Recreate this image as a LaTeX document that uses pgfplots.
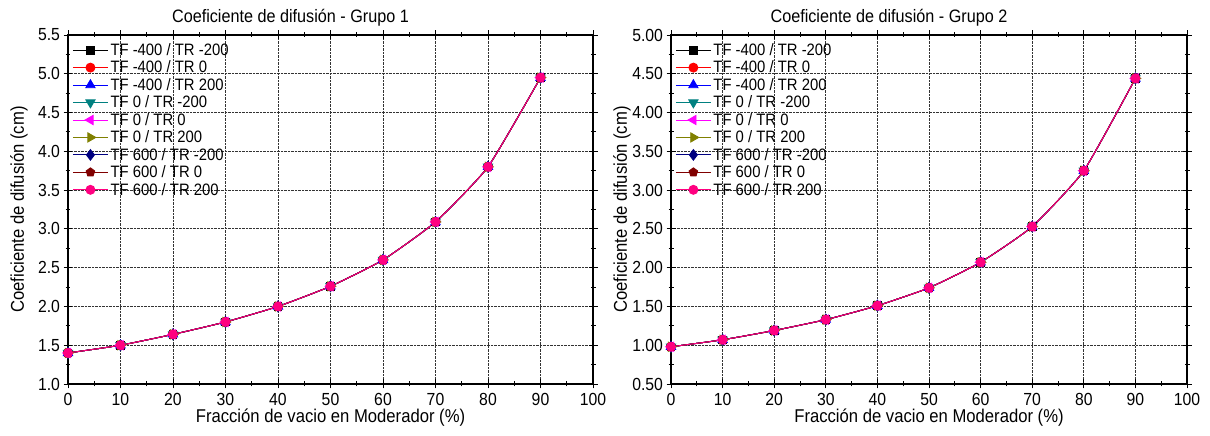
\documentclass[border=0pt]{standalone}
\usepackage{fontspec}
\setmainfont{Liberation Sans}[FakeStretch=0.9]
\usepackage{pgfplots}
\pgfplotsset{compat=1.18}
\usepackage{pgfplotstable}

\pgfplotstableread{
x y
0 1.40
10 1.50
20 1.64
30 1.80
40 2.00
50 2.26
60 2.60
70 3.09
80 3.80
90 4.95
}\grupoA

\pgfplotstableread{
x y
0 0.98
10 1.07
20 1.19
30 1.33
40 1.51
50 1.74
60 2.07
70 2.53
80 3.25
90 4.44
}\grupoB

\definecolor{cteal}{RGB}{0,128,128}
\definecolor{colive}{RGB}{128,128,0}
\definecolor{cnavy}{RGB}{0,0,128}
\definecolor{cmaroon}{RGB}{128,0,0}
\definecolor{cpink}{RGB}{255,0,128}
\definecolor{cmag}{RGB}{255,0,255}

\pgfplotsset{
  base/.style={
    scale only axis,
    height=349pt,
    xmin=0, xmax=100,
    xtick distance=10,
    minor x tick num=1,
    minor y tick num=1,
    grid=major,
    major grid style={densely dotted, black!80, line width=0.8pt},
    tick align=center,
    major tick length=9pt,
    minor tick length=5pt,
    tick style={black, line width=0.9pt},
    axis line style={line width=1.1pt},
    /pgf/number format/assume math mode=true,
    tick label style={font=\fontsize{17.5}{20}\selectfont},
    xticklabel style={yshift=-1pt},
    every axis x label/.style={at={(rel axis cs:0.5,0)}, yshift=-34pt, anchor=center},
    every axis y label/.style={at={(rel axis cs:0,0.5)}, xshift=-49pt, rotate=90, anchor=center},
    every axis title/.style={at={(rel axis cs:0.5,1)}, yshift=17pt, xshift=-40pt, anchor=center},
    label style={font=\fontsize{18.5}{20}\selectfont},
    title style={font=\fontsize{18}{20}\selectfont},
    xlabel={Fracción de vacio en Moderador (\%)},
    ylabel={Coeficiente de difusión (cm)},
    legend style={at={(0.006,0.985)}, anchor=north west, draw=none, fill=none,
      font=\fontsize{16.5}{18}\selectfont, row sep=0pt, inner sep=1pt},
    legend cell align=left,
    legend image code/.code={\draw[mark repeat=2,mark phase=2] plot coordinates {(0cm,0cm) (0.62cm,0cm) (1.24cm,0cm)};},
    every axis plot/.append style={line width=0.9pt, mark size=4.5pt},
  },
  s1/.style={black, mark=square*, mark size=3.8pt, mark options={solid, fill=black}},
  s2/.style={red, mark=*, mark options={solid, fill=red}},
  s3/.style={blue, mark=triangle*, mark size=5.3pt, mark options={solid, fill=blue}},
  s4/.style={cteal, mark=triangle*, mark size=5.3pt, mark options={solid, fill=cteal, rotate=180}},
  s5/.style={cmag, mark=triangle*, mark size=5.3pt, mark options={solid, fill=cmag, rotate=90}},
  s6/.style={colive, mark=triangle*, mark size=5.3pt, mark options={solid, fill=colive, rotate=270}},
  s7/.style={cnavy, mark=diamond*, mark size=5.3pt, mark options={solid, fill=cnavy}},
  s8/.style={cmaroon, mark=pentagon*, mark options={solid, fill=cmaroon}},
  s9/.style={cpink, mark=*, mark options={solid, fill=cpink}},
}

\newcommand{\series}[1]{%
  \addplot[s1, smooth, tension=0.3] table {#1};
  \addplot[s2, smooth, tension=0.3] table {#1};
  \addplot[s3, smooth, tension=0.3] table {#1};
  \addplot[s4, smooth, tension=0.3] table {#1};
  \addplot[s5, smooth, tension=0.3] table {#1};
  \addplot[s6, smooth, tension=0.3] table {#1};
  \addplot[s7, smooth, tension=0.3] table {#1};
  \addplot[s8, smooth, tension=0.3] table {#1};
  \addplot[s9, smooth, tension=0.3] table {#1};
  \legend{TF -400 / TR -200, TF -400 / TR 0, TF -400 / TR 200, TF 0 / TR -200, TF 0 / TR 0, TF 0 / TR 200, TF 600 / TR -200, TF 600 / TR 0, TF 600 / TR 200}
}

\begin{document}
\begin{tikzpicture}[x=1pt,y=1pt]
\path[use as bounding box] (0,0) rectangle (1210,436);
\begin{axis}[base, at={(68pt,52pt)}, anchor=south west, width=525pt,
  ymin=1.0, ymax=5.5, ytick distance=0.5,
  yticklabel style={/pgf/number format/.cd, fixed, fixed zerofill, precision=1},
  title={Coeficiente de difusión - Grupo 1}]
\series{\grupoA}
\end{axis}
\begin{axis}[base, at={(671pt,52pt)}, anchor=south west, width=516pt,
  ymin=0.5, ymax=5.0, ytick distance=0.5,
  yticklabel style={/pgf/number format/.cd, fixed, fixed zerofill, precision=2},
  title={Coeficiente de difusión - Grupo 2}]
\series{\grupoB}
\end{axis}
\end{tikzpicture}
\end{document}
